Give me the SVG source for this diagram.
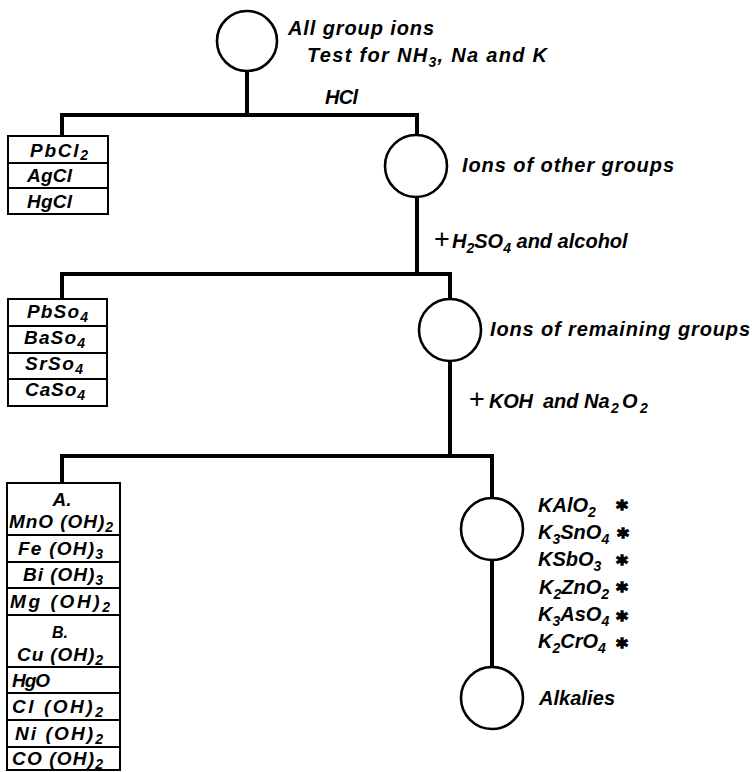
<svg xmlns="http://www.w3.org/2000/svg" width="754" height="772" viewBox="0 0 754 772">
<style>
.bg{fill:#fff}
.ln{stroke:#000;stroke-width:4;fill:none;stroke-linecap:square}
.cir{fill:#fff;stroke:#000;stroke-width:2.6}
.box{fill:#fff;stroke:#000;stroke-width:2}
.dv{stroke:#000;stroke-width:2}
text{font-family:"Liberation Sans","DejaVu Sans",Arial,sans-serif;font-weight:bold;font-style:italic;fill:#000}
.lb{font-size:20px}
.bx{font-size:19px}
.hd{font-size:16px}
.sub{font-size:14px}
.plus{font-size:27px;font-weight:normal;font-style:normal}
.ast{font-family:"DejaVu Sans",sans-serif;font-size:22px;font-style:normal;text-anchor:middle;stroke:#000;stroke-width:1.4}
.mid{text-anchor:middle}
</style>
<rect class="bg" x="0" y="0" width="754" height="772"/>
<g id="connectors">
<path class="ln" d="M247,72 V115 M62,115 H417 M62,115 V136 M417,115 V135"/>
<path class="ln" d="M417,197 V274 M62,274 H450 M62,274 V299 M450,274 V299"/>
<path class="ln" d="M450,361 V456 M62,456 H492 M62,456 V483 M492,456 V498"/>
<path class="ln" d="M492,560 V667"/>
</g>
<g id="n-all">
<circle class="cir" cx="247" cy="41" r="30"/>
<text class="lb" x="288" y="35" textLength="146">All group ions</text>
<text class="lb" x="307" y="62" textLength="240">Test for NH<tspan class="sub" dy="5">3</tspan><tspan dy="-5">, Na and K</tspan></text>
</g>
<g id="l-hcl"><text class="lb" x="325" y="104" textLength="33">HCl</text></g>
<g id="b-chlorides">
<rect class="box" x="8" y="136" width="100" height="78"/>
<line class="dv" x1="8" y1="163" x2="108" y2="163"/>
<line class="dv" x1="8" y1="188" x2="108" y2="188"/>
<text class="bx" x="30" y="157" textLength="58">PbCl<tspan class="sub" dy="3">2</tspan></text>
<text class="bx" x="27" y="182" textLength="45">AgCl</text>
<text class="bx" x="27" y="208" textLength="45">HgCl</text>
</g>
<g id="n-other">
<circle class="cir" cx="416" cy="166" r="31"/>
<text class="lb" x="462" y="172" textLength="212">Ions of other groups</text>
</g>
<g id="l-h2so4"><text class="lb" y="248"><tspan class="plus" x="434">+</tspan><tspan x="452">H</tspan><tspan class="sub" dy="5">2</tspan><tspan dy="-5">SO</tspan><tspan class="sub" dy="5">4</tspan><tspan dy="-5"> and alcohol</tspan></text></g>
<g id="b-sulfates">
<rect class="box" x="8" y="299" width="99" height="107"/>
<line class="dv" x1="8" y1="326" x2="107" y2="326"/>
<line class="dv" x1="8" y1="353" x2="107" y2="353"/>
<line class="dv" x1="8" y1="379" x2="107" y2="379"/>
<text class="bx" x="27" y="318" textLength="61">PbSo<tspan class="sub" dy="4">4</tspan></text>
<text class="bx" x="24" y="344" textLength="61">BaSo<tspan class="sub" dy="4">4</tspan></text>
<text class="bx" x="25" y="370" textLength="58">SrSo<tspan class="sub" dy="4">4</tspan></text>
<text class="bx" x="25" y="396" textLength="60">CaSo<tspan class="sub" dy="4">4</tspan></text>
</g>
<g id="n-remaining">
<circle class="cir" cx="450" cy="330" r="31"/>
<text class="lb" x="490" y="336" textLength="260">Ions of remaining groups</text>
</g>
<g id="l-koh"><text class="lb" y="408"><tspan class="plus" x="469">+</tspan><tspan x="489" textLength="44">KOH</tspan><tspan x="543">and</tspan><tspan x="584">Na</tspan><tspan class="sub" x="611" dy="5">2</tspan><tspan x="622" dy="-5">O</tspan><tspan class="sub" x="640" dy="5">2</tspan></text></g>
<g id="b-hydroxides">
<rect class="box" x="7" y="483" width="113" height="287"/>
<line class="dv" x1="7" y1="535" x2="120" y2="535"/>
<line class="dv" x1="7" y1="562" x2="120" y2="562"/>
<line class="dv" x1="7" y1="588" x2="120" y2="588"/>
<line class="dv" x1="7" y1="615" x2="120" y2="615"/>
<line class="dv" x1="7" y1="667" x2="120" y2="667"/>
<line class="dv" x1="7" y1="693" x2="120" y2="693"/>
<line class="dv" x1="7" y1="720" x2="120" y2="720"/>
<line class="dv" x1="7" y1="747" x2="120" y2="747"/>
<text class="bx mid" x="62" y="506">A.</text>
<text class="bx" x="9" y="528" textLength="104">MnO (OH)<tspan class="sub" dy="4">2</tspan></text>
<text class="bx" x="18" y="555" textLength="85">Fe (OH)<tspan class="sub" dy="4">3</tspan></text>
<text class="bx" x="23" y="581" textLength="80">Bi (OH)<tspan class="sub" dy="4">3</tspan></text>
<text class="bx" x="10" y="608" textLength="100">Mg (OH)<tspan class="sub" dy="4">2</tspan></text>
<text class="hd mid" x="60" y="638">B.</text>
<text class="bx" x="17" y="661" textLength="86">Cu (OH)<tspan class="sub" dy="4">2</tspan></text>
<text class="bx" x="12" y="687" textLength="38">HgO</text>
<text class="bx" x="12" y="713" textLength="91">Cl (OH)<tspan class="sub" dy="4">2</tspan></text>
<text class="bx" x="15" y="740" textLength="88">Ni (OH)<tspan class="sub" dy="4">2</tspan></text>
<text class="bx" x="12" y="765" textLength="91">CO (OH)<tspan class="sub" dy="4">2</tspan></text>
</g>
<g id="n-soluble">
<circle class="cir" cx="492" cy="529" r="31"/>
<text class="lb" x="538" y="512">KAlO<tspan class="sub" dy="5">2</tspan></text>
<text class="lb" x="538" y="539">K<tspan class="sub" dy="5">3</tspan><tspan dy="-5">SnO</tspan><tspan class="sub" dy="5">4</tspan></text>
<text class="lb" x="538" y="566">KSbO<tspan class="sub" dy="5">3</tspan></text>
<text class="lb" x="539" y="594">K<tspan class="sub" dy="5">2</tspan><tspan dy="-5">ZnO</tspan><tspan class="sub" dy="5">2</tspan></text>
<text class="lb" x="538" y="621">K<tspan class="sub" dy="5">3</tspan><tspan dy="-5">AsO</tspan><tspan class="sub" dy="5">4</tspan></text>
<text class="lb" x="538" y="648">K<tspan class="sub" dy="5">2</tspan><tspan dy="-5">CrO</tspan><tspan class="sub" dy="5">4</tspan></text>
<text class="ast" x="622" y="516">*</text>
<text class="ast" x="623" y="544">*</text>
<text class="ast" x="622" y="571">*</text>
<text class="ast" x="622" y="598">*</text>
<text class="ast" x="622" y="627">*</text>
<text class="ast" x="622" y="654">*</text>
</g>
<g id="n-alkalies">
<circle class="cir" cx="492" cy="698" r="31"/>
<text class="lb" x="539" y="705" textLength="76">Alkalies</text>
</g>
</svg>
